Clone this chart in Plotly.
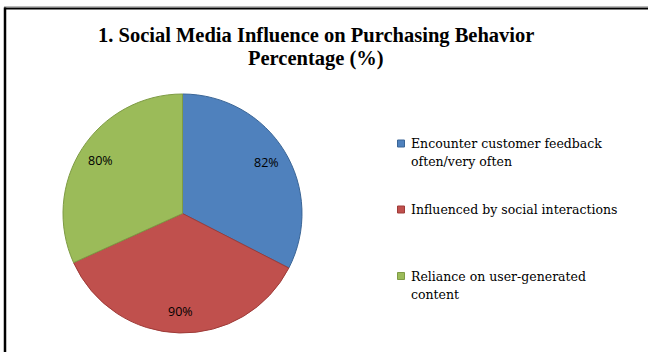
import math
import plotly.graph_objects as go

# Chart data
labels = [
    "Encounter customer feedback<br>often/very often",
    "Influenced by social interactions",
    "Reliance on user-generated<br>content",
]
values = [82, 90, 80]
colors = ["#4F81BD", "#C0504D", "#9BBB59"]
edge_colors = ["#3A6596", "#9E3B38", "#7E9B44"]
title_lines = ["1. Social Media Influence on Purchasing Behavior", "Percentage (%)"]

W, H = 648, 352

# Pie placement (pixels)
cx, cy, R = 182.5, 213.5, 119.5


def px_x(x):
    return x / W


def px_y(y):
    return 1 - y / H


fig = go.Figure()
fig.add_trace(go.Pie(
    labels=labels,
    values=values,
    sort=False,
    direction="clockwise",
    rotation=0,
    marker=dict(colors=colors, line=dict(color=edge_colors, width=1)),
    textinfo="none",
    hoverinfo="label+value",
    showlegend=False,
    domain=dict(x=[px_x(cx - R), px_x(cx + R)], y=[px_y(cy + R), px_y(cy - R)]),
))

annotations = []

# Value labels placed along each slice's bisector, near the rim
total = sum(values)
start = 0.0
for v in values:
    mid = start + v / total * 360 / 2
    start += v / total * 360
    a = math.radians(mid)
    lx = cx + 0.82 * R * math.sin(a)
    ly = cy - 0.82 * R * math.cos(a)
    annotations.append(dict(
        x=px_x(lx), y=px_y(ly), xref="paper", yref="paper",
        text=f"{v}%", showarrow=False,
        font=dict(family="Open Sans", size=12.5, color="#000000"),
        xanchor="center", yanchor="middle",
    ))

# Title, one annotation per line
for line, ty in zip(title_lines, [35.5, 58.5]):
    annotations.append(dict(
        x=px_x(316), y=px_y(ty), xref="paper", yref="paper",
        text=f"<b>{line}</b>", showarrow=False, align="center",
        font=dict(family="Liberation Serif", size=20.5, color="#000000"),
        xanchor="center", yanchor="middle",
    ))

# Legend: square swatches with labels (18 px line pitch)
legend_top = [143.5, 209.5, 276]
shapes = []
for lab, col, ecol, ly in zip(labels, colors, edge_colors, legend_top):
    shapes.append(dict(
        type="rect", xref="paper", yref="paper",
        x0=px_x(397.5), x1=px_x(404.5), y0=px_y(ly + 3.5), y1=px_y(ly - 3.5),
        fillcolor=col, line=dict(color=ecol, width=1),
    ))
    for i, part in enumerate(lab.split("<br>")):
        annotations.append(dict(
            x=px_x(409), y=px_y(ly + 18 * i), xref="paper", yref="paper",
            text=part, showarrow=False, align="left",
            font=dict(family="DejaVu Serif", size=12.5, color="#000000"),
            xanchor="left", yanchor="middle",
        ))

# Frame lines along the top and left edges
shapes.append(dict(type="line", xref="paper", yref="paper",
                   x0=px_x(4), x1=1, y0=px_y(6.5), y1=px_y(6.5),
                   line=dict(color="#BBBBBB", width=1)))
shapes.append(dict(type="line", xref="paper", yref="paper",
                   x0=px_x(4), x1=1, y0=px_y(8.5), y1=px_y(8.5),
                   line=dict(color="#000000", width=2)))
shapes.append(dict(type="line", xref="paper", yref="paper",
                   x0=px_x(5), x1=px_x(5), y0=px_y(7.5), y1=0,
                   line=dict(color="#000000", width=2.5)))

fig.update_layout(
    width=W, height=H, autosize=False,
    margin=dict(l=0, r=0, t=0, b=0),
    paper_bgcolor="#FFFFFF", plot_bgcolor="#FFFFFF",
    annotations=annotations, shapes=shapes,
)

fig.write_html("out.html")
